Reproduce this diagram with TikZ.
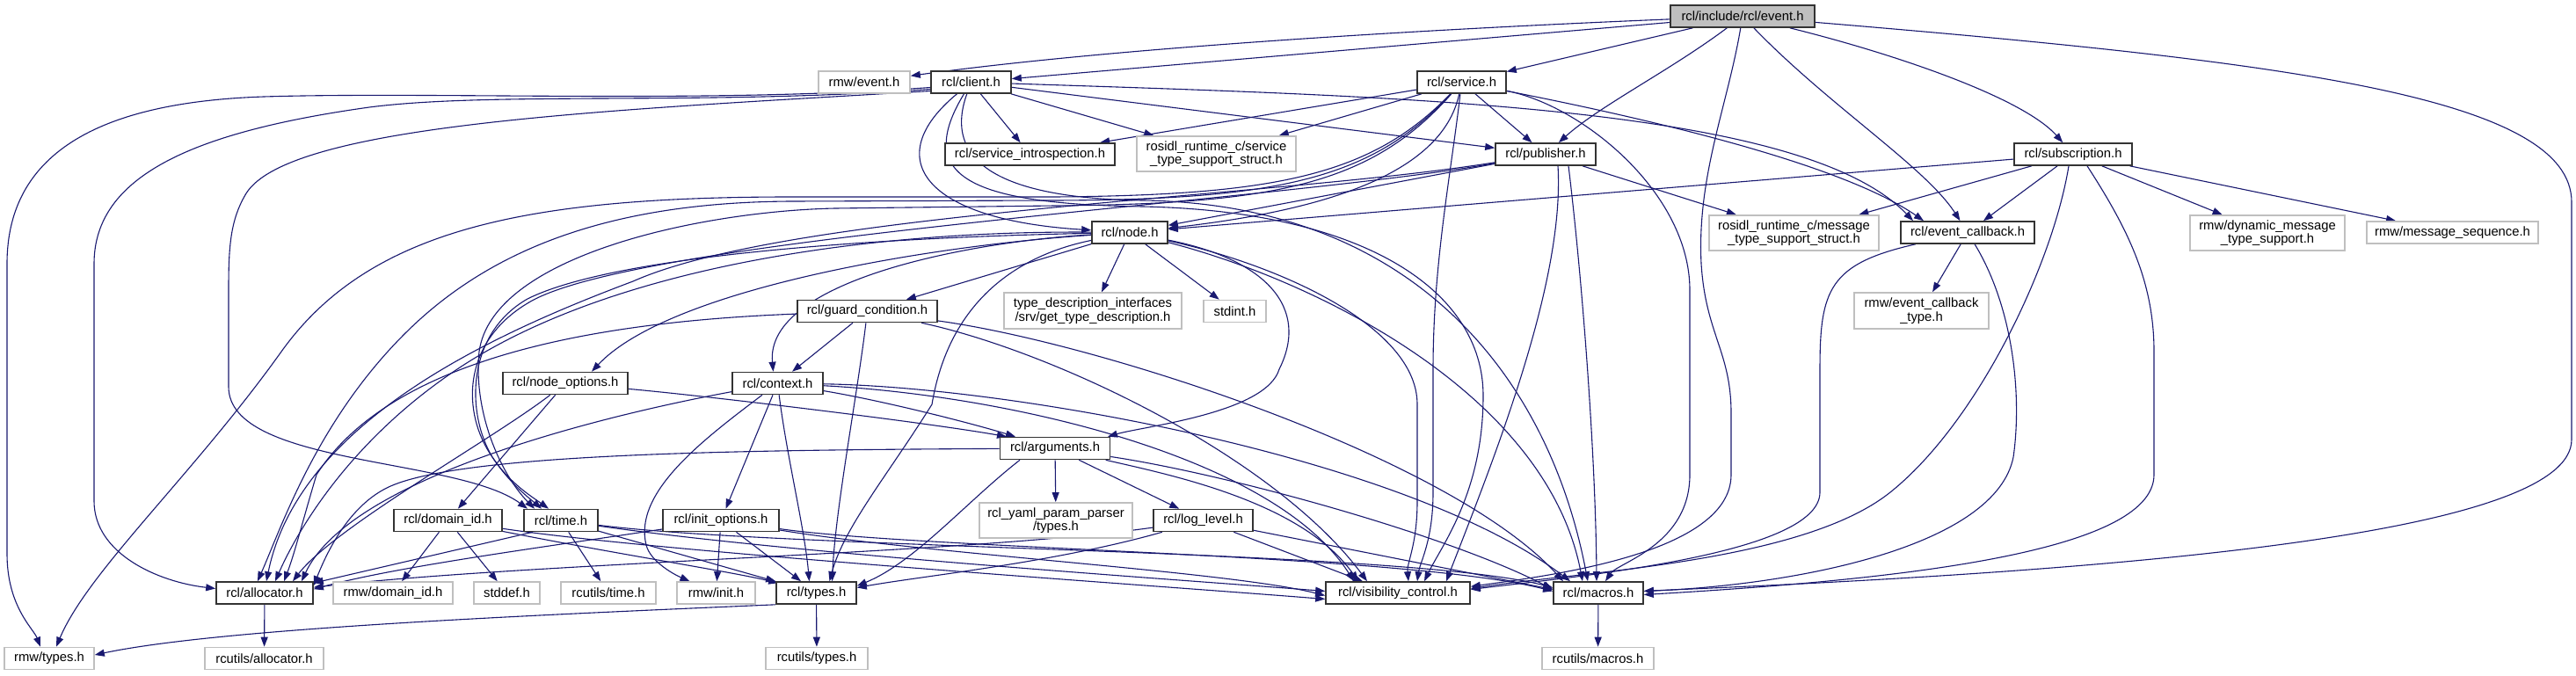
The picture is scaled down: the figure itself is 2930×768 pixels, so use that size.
\documentclass[tikz,border=0pt]{standalone}
\usepackage{fontspec}
\setmainfont{Liberation Sans}
\usetikzlibrary{arrows.meta}
\definecolor{edgec}{HTML}{191970}
\definecolor{extc}{HTML}{BFBFBF}
\definecolor{rootfill}{HTML}{BFBFBF}
\pgfdeclarelayer{background}
\pgfsetlayers{background,main}
\begin{document}
\begin{tikzpicture}[x=1pt,y=-1pt,
  font=\fontsize{14.8}{15.5}\selectfont,
  nd/.style={draw=black!80, line width=1.6pt, fill=white, inner sep=0pt, minimum height=25pt, align=center},
  ext/.style={draw=extc, line width=1.6pt, fill=white, inner sep=0pt, minimum height=25pt, align=center},
  rootn/.style={draw=black!80, line width=1.6pt, fill=rootfill, inner sep=0pt, minimum height=25pt, align=center},
  dep/.style={draw=edgec, line width=1.1pt, -{Triangle[length=11pt,width=8pt]}}]
\useasboundingbox (0,0) rectangle (2930,768);
% nodes
\node[rootn, minimum width=164pt] (root) at (1982,18.5) {rcl/include/rcl/event.h};
\node[ext, minimum width=104pt] (rmwevent) at (983,93.5) {rmw/event.h};
\node[nd, minimum width=91pt] (client) at (1104.5,93.5) {rcl/client.h};
\node[nd, minimum width=101pt] (service) at (1662.5,93.5) {rcl/service.h};
\node[nd, minimum width=193pt] (servintro) at (1171.5,175.5) {rcl/service\_introspection.h};
\node[ext, minimum width=181pt, minimum height=40pt] (rosidlsrv) at (1383.5,175) {rosidl\_runtime\_c/service\\\_type\_support\_struct.h};
\node[nd, minimum width=114pt] (publisher) at (1758,175.5) {rcl/publisher.h};
\node[nd, minimum width=134pt] (subscription) at (2358,175.5) {rcl/subscription.h};
\node[ext, minimum width=193pt, minimum height=40pt] (rosidlmsg) at (2040.5,265) {rosidl\_runtime\_c/message\\\_type\_support\_struct.h};
\node[nd, minimum width=152pt] (eventcb) at (2238,264.5) {rcl/event\_callback.h};
\node[ext, minimum width=176pt, minimum height=40pt] (dynmsg) at (2579,265) {rmw/dynamic\_message\\\_type\_support.h};
\node[ext, minimum width=195pt] (msgseq) at (2789.5,264.5) {rmw/message\_sequence.h};
\node[nd, minimum width=86pt] (nodeh) at (1285,264.5) {rcl/node.h};
\node[ext, minimum width=202pt, minimum height=41pt] (typedesc) at (1243,353.5) {type\_description\_interfaces\\/srv/get\_type\_description.h};
\node[ext, minimum width=71pt] (stdint) at (1404.5,354) {stdint.h};
\node[nd, minimum width=159pt] (guard) at (986.5,354) {rcl/guard\_condition.h};
\node[ext, minimum width=153pt, minimum height=41pt] (cbtype) at (2185.5,353.5) {rmw/event\_callback\\\_type.h};
\node[nd, minimum width=142pt] (nodeopt) at (643,436) {rcl/node\_options.h};
\node[nd, minimum width=103pt] (context) at (884.5,436) {rcl/context.h};
\node[nd, minimum width=125pt] (arguments) at (1200,510) {rcl/arguments.h};
\node[ext, minimum width=174pt, minimum height=40pt] (yaml) at (1201,592) {rcl\_yaml\_param\_parser\\/types.h};
\node[nd, minimum width=113pt] (loglevel) at (1368.5,592) {rcl/log\_level.h};
\node[nd, minimum width=123pt] (domainid) at (509.5,592) {rcl/domain\_id.h};
\node[nd, minimum width=84pt] (time) at (638,592) {rcl/time.h};
\node[nd, minimum width=132pt] (initopt) at (820,592) {rcl/init\_options.h};
\node[nd, minimum width=110pt] (allocator) at (301,674.5) {rcl/allocator.h};
\node[ext, minimum width=136pt] (rmwdomain) at (447,674.5) {rmw/domain\_id.h};
\node[ext, minimum width=75pt] (stddef) at (576.5,674.5) {stddef.h};
\node[ext, minimum width=108pt] (rcutilstime) at (692,674.5) {rcutils/time.h};
\node[ext, minimum width=89pt] (rmwinit) at (814.5,674.5) {rmw/init.h};
\node[nd, minimum width=91pt] (types) at (928.5,674.5) {rcl/types.h};
\node[nd, minimum width=164pt] (vis) at (1590,674.5) {rcl/visibility\_control.h};
\node[nd, minimum width=102pt] (macros) at (1818,674.5) {rcl/macros.h};
\node[ext, minimum width=102pt] (rmwtypes) at (56,749) {rmw/types.h};
\node[ext, minimum width=135pt] (rcutilsalloc) at (300.5,749) {rcutils/allocator.h};
\node[ext, minimum width=116pt] (rcutilstypes) at (929,749) {rcutils/types.h};
\node[ext, minimum width=127pt] (rcutilsmacros) at (1817.5,749) {rcutils/macros.h};

\begin{pgfonlayer}{background}
\fill[white] (0,0) rectangle (2930,768);
% root
\draw[dep] (root) .. controls (1700,30) and (1300,50) .. (rmwevent);
\draw[dep] (root) -- (client);
\draw[dep] (root) -- (service);
\draw[dep] (root) .. controls (1900,80) and (1820,120) .. (publisher);
\draw[dep] (root) .. controls (2080,120) and (2190,190) .. (eventcb);
\draw[dep] (root) .. controls (2150,60) and (2300,110) .. (subscription);
\draw[dep] (root) .. controls (2600,70) and (2925,110) .. (2925,230) -- (2925,500) .. controls (2925,610) and (2400,650) .. (macros);
\draw[dep] (root) .. controls (1965,120) and (1930,200) .. (1935,300) .. controls (1940,380) and (1969,400) .. (1969,470) -- (1969,540) .. controls (1969,630) and (1760,655) .. (vis.5);
% client
\draw[dep] (client) -- (servintro);
\draw[dep] (client) -- (rosidlsrv);
\draw[dep] (client) -- (publisher);
\draw[dep] (client) .. controls (1600,110) and (2050,120) .. ([xshift=-62pt]eventcb.north);
\draw[dep] (client) .. controls (1000,180) and (1050,250) .. (nodeh);
\draw[dep] (client) .. controls (1040,200) and (1100,232) .. (1300,235) .. controls (1550,240) and (1687,330) .. (1687,450) .. controls (1687,560) and (1640,620) .. ([xshift=30pt]vis.north);
\draw[dep] (client) .. controls (1070,190) and (1150,226) .. (1300,228) .. controls (1600,232) and (1760,420) .. ([xshift=-12pt]macros.north);
\draw[dep] ([yshift=-6pt]client.west) .. controls (800,118) and (500,104) .. (300,110) .. controls (120,116) and (8,170) .. (8,300) -- (8,630) .. controls (8,690) and (38,715) .. ([xshift=-10pt]rmwtypes.north);
\draw[dep] ([yshift=-8pt]client.west) .. controls (800,120) and (560,104) .. (420,122) .. controls (220,150) and (107,200) .. (107,300) -- (107,570) .. controls (107,630) and (180,662) .. ([yshift=5pt]allocator.west);
\draw[dep] ([yshift=-10pt]client.west) .. controls (700,125) and (330,140) .. (280,220) .. controls (262,250) and (260,280) .. (260,330) -- (260,440) .. controls (260,530) and (520,520) .. ([xshift=-38pt]time.north);
% service
\draw[dep] (service) -- (servintro);
\draw[dep] (service) -- (rosidlsrv);
\draw[dep] (service) -- (publisher);
\draw[dep] (service) .. controls (1900,140) and (2100,190) .. ([xshift=-50pt]eventcb.north);
\draw[dep] (service) .. controls (1640,200) and (1500,240) .. (nodeh);
\draw[dep] (service) .. controls (1650,200) and (1630,300) .. (1630,420) -- (1630,560) .. controls (1630,615) and (1615,640) .. ([xshift=22pt]vis.north);
\draw[dep] (service) .. controls (1800,120) and (1922,220) .. (1922,330) -- (1922,540) .. controls (1922,620) and (1840,640) .. ([xshift=8pt]macros.north);
\draw[dep] (service) .. controls (1560,200) and (1450,222) .. (1200,224) -- (900,224) .. controls (600,224) and (420,260) .. (320,400) .. controls (220,540) and (100,650) .. ([xshift=8pt]rmwtypes.north);
\draw[dep] (service) .. controls (1560,205) and (1450,227) .. (1200,228) -- (900,229) .. controls (700,230) and (560,280) .. (460,380) .. controls (360,480) and (320,600) .. ([xshift=-8pt]allocator.north);
\draw[dep] (service) .. controls (1560,210) and (1450,232) .. (1200,234) -- (950,237) .. controls (800,240) and (560,290) .. (545,400) .. controls (538,470) and (570,540) .. ([xshift=-30pt]time.north);
% publisher
\draw[dep] (publisher) -- (rosidlmsg);
\draw[dep] (publisher) -- (nodeh);
\draw[dep] (publisher) .. controls (1450,225) and (900,240) .. (720,320) .. controls (560,380) and (340,480) .. ([xshift=2pt]allocator.north);
\draw[dep] (publisher) .. controls (1450,230) and (720,270) .. (600,345) .. controls (525,390) and (525,470) .. (560,520) .. controls (580,550) and (600,565) .. ([xshift=-22pt]time.north);
\draw[dep] ([xshift=14pt]publisher.south) .. controls (1780,320) and (1700,520) .. ([xshift=55pt]vis.north);
\draw[dep] ([xshift=26pt]publisher.south) .. controls (1800,320) and (1815,520) .. ([xshift=-2pt]macros.north);
% subscription
\draw[dep] (subscription) -- (nodeh);
\draw[dep] (subscription) -- (rosidlmsg);
\draw[dep] (subscription) -- (eventcb);
\draw[dep] (subscription) -- (dynmsg);
\draw[dep] (subscription) -- (msgseq);
\draw[dep] ([xshift=-5pt]subscription.south) .. controls (2335,300) and (2250,480) .. (2150,560) .. controls (2050,640) and (1800,650) .. ([yshift=5pt]vis.east);
\draw[dep] ([xshift=16pt]subscription.south) .. controls (2420,260) and (2450,320) .. (2450,400) -- (2450,540) .. controls (2450,630) and (2150,660) .. ([yshift=-2pt]macros.east);
% event_callback
\draw[dep] (eventcb) -- (cbtype);
\draw[dep] (eventcb) .. controls (2080,300) and (2070,330) .. (2070,420) -- (2070,560) .. controls (2070,630) and (1800,655) .. ([yshift=4pt]vis.east);
\draw[dep] (eventcb) .. controls (2290,350) and (2300,450) .. (2290,520) .. controls (2270,620) and (2050,665) .. ([yshift=2pt]macros.east);
% node
\draw[dep] (nodeh) -- (guard);
\draw[dep] (nodeh) -- (typedesc);
\draw[dep] (nodeh) -- (stdint);
\draw[dep] (nodeh) .. controls (1440,295) and (1490,350) .. (1455,420) .. controls (1440,470) and (1300,485) .. ([xshift=60pt]arguments.north);
\draw[dep] (nodeh) .. controls (1100,275) and (870,320) .. ([xshift=-5pt]context.north);
\draw[dep] (nodeh) .. controls (1050,280) and (760,330) .. ([xshift=30pt]nodeopt.north);
\draw[dep] (nodeh) .. controls (1000,262) and (700,300) .. (520,420) .. controls (400,500) and (340,600) .. ([xshift=12pt]allocator.north);
\draw[dep] (nodeh) .. controls (1000,270) and (700,290) .. (600,340) .. controls (530,380) and (530,470) .. (560,520) .. controls (580,550) and (605,565) .. ([xshift=-14pt]time.north);
\draw[dep] (nodeh) .. controls (1160,290) and (1080,340) .. (1060,460) .. controls (1010,540) and (960,600) .. ([xshift=15pt]types.north);
\draw[dep] (nodeh) .. controls (1450,300) and (1612,370) .. (1612,460) -- (1612,570) .. controls (1612,620) and (1600,640) .. ([xshift=12pt]vis.north);
\draw[dep] (nodeh) .. controls (1500,320) and (1760,450) .. ([xshift=-18pt]macros.north);
% guard_condition
\draw[dep] (guard) -- (context);
\draw[dep] (guard) .. controls (700,365) and (450,400) .. (360,540) .. controls (345,590) and (335,630) .. ([xshift=22pt]allocator.north);
\draw[dep] (guard) .. controls (975,450) and (950,580) .. ([xshift=18pt]types.north);
\draw[dep] (guard) .. controls (1200,400) and (1450,520) .. ([xshift=-35pt]vis.north);
\draw[dep] (guard) .. controls (1250,390) and (1650,520) .. ([xshift=-40pt]macros.north);
% node_options
\draw[dep] (nodeopt) .. controls (560,500) and (380,600) .. ([xshift=32pt]allocator.north);
\draw[dep] (nodeopt) -- (domainid);
\draw[dep] (nodeopt) .. controls (800,450) and (1050,480) .. ([xshift=-55pt]arguments.north);
% context
\draw[dep] (context) .. controls (1000,455) and (1100,480) .. ([xshift=-45pt]arguments.north);
\draw[dep] (context) .. controls (700,470) and (400,540) .. ([xshift=42pt]allocator.north);
\draw[dep] (context) -- (initopt);
\draw[dep] (context) .. controls (800,500) and (720,560) .. (735,620) .. controls (740,640) and (770,655) .. ([xshift=-30pt]rmwinit.north);
\draw[dep] (context) .. controls (895,520) and (915,600) .. ([xshift=-8pt]types.north);
\draw[dep] (context) .. controls (1150,450) and (1450,520) .. ([xshift=-50pt]vis.north);
\draw[dep] (context) .. controls (1150,440) and (1600,520) .. ([xshift=-32pt]macros.north);
% arguments
\draw[dep] (arguments) -- (yaml);
\draw[dep] (arguments) -- (loglevel);
\draw[dep] ([xshift=-40pt]arguments.south) .. controls (1100,570) and (1040,640) .. ([yshift=8pt]types.east);
\draw[dep] (arguments) .. controls (850,512) and (520,515) .. (440,555) .. controls (400,575) and (375,620) .. ([yshift=-5pt]allocator.north east);
\draw[dep] (arguments) .. controls (1330,540) and (1480,570) .. ([xshift=-45pt]vis.north);
\draw[dep] (arguments) .. controls (1400,540) and (1650,610) .. ([yshift=4pt]macros.west);
% log_level
\draw[dep] (loglevel) .. controls (1100,630) and (600,640) .. ([yshift=-7pt]allocator.north east);
\draw[dep] (loglevel) .. controls (1200,640) and (1050,655) .. ([yshift=6pt]types.east);
\draw[dep] (loglevel) -- ([xshift=-40pt]vis.north);
\draw[dep] (loglevel) -- ([yshift=4pt]macros.west);
% init_options
\draw[dep] (initopt) .. controls (600,625) and (450,645) .. ([yshift=-9pt]allocator.north east);
\draw[dep] (initopt) -- (rmwinit);
\draw[dep] (initopt) -- (types);
\draw[dep] (initopt) .. controls (1050,630) and (1400,650) .. ([yshift=-3pt]vis.west);
\draw[dep] (initopt) .. controls (1050,625) and (1600,630) .. ([yshift=2pt]macros.west);
% time
\draw[dep] ([xshift=-32pt]time.south) -- ([yshift=-2pt]allocator.north east);
\draw[dep] (time) -- (rcutilstime);
\draw[dep] (time) -- (types);
\draw[dep] (time) .. controls (900,630) and (1350,660) .. ([yshift=2pt]vis.west);
\draw[dep] (time) .. controls (900,625) and (1600,625) .. ([yshift=6pt]macros.west);
% domain_id
\draw[dep] (domainid) -- (rmwdomain);
\draw[dep] (domainid) -- (stddef);
\draw[dep] (domainid) .. controls (700,630) and (830,650) .. ([xshift=3pt,yshift=-2pt]types.north west);
\draw[dep] (domainid) .. controls (750,628) and (1300,665) .. ([yshift=-7pt]vis.west);
% leaves
\draw[dep] (types.south west) .. controls (600,700) and (250,715) .. ([yshift=4pt]rmwtypes.east);
\draw[dep] (types) -- (rcutilstypes);
\draw[dep] (allocator) -- (rcutilsalloc);
\draw[dep] (macros) -- (rcutilsmacros);
\end{pgfonlayer}
\end{tikzpicture}
\end{document}
